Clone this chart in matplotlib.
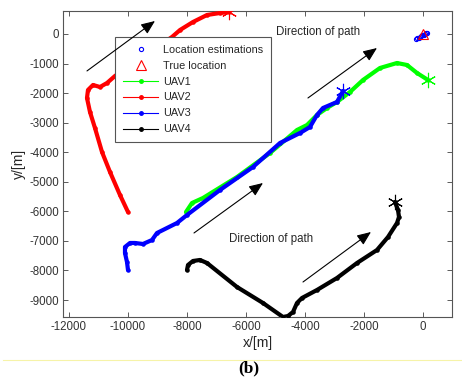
import matplotlib
matplotlib.use("Agg")
import matplotlib.pyplot as plt
from matplotlib.lines import Line2D

plt.rcParams["font.family"] = ["Liberation Sans", "DejaVu Sans"]
plt.rcParams["axes.unicode_minus"] = False

# UAV trajectories (x, y in metres), listed from start to end
uav1_x = [-8034, -7831, -7458, -6305, -5186, -4271, -3932, -3593, -3254, -2915,
          -2475, -2034, -1458, -881, -542, -203, 169]
uav1_y = [-6022, -5717, -5548, -4838, -4026, -3248, -3079, -2740, -2503, -2300,
          -1962, -1556, -1150, -981, -1049, -1319, -1556]

uav2_x = [-10000, -10271, -10610, -10881, -11119, -11288, -11390, -11356, -11186,
          -10949, -10712, -10441, -9424, -8508, -8237, -7797, -7322, -6881, -6576]
uav2_y = [-6022, -5447, -4668, -3992, -3180, -2639, -2165, -1894, -1725,
          -1793, -1658, -1421, -710, -101, 135, 406, 643, 710, 744]

uav3_x = [-10000, -10034, -10102, -10102, -9932, -9763, -9492, -9186, -9017, -8339,
          -8000, -6881, -5763, -4847, -4169, -3831, -3593, -3390, -2915, -2712]
uav3_y = [-7984, -7713, -7409, -7206, -7070, -7070, -7104, -6969, -6732, -6394,
          -6123, -5277, -4499, -3687, -3349, -3146, -2740, -2503, -2300, -1928]

uav4_x = [-8000, -7966, -7797, -7559, -7322, -6305, -5424, -4746, -4576, -4407,
          -4271, -4102, -3593, -2915, -2237, -1559, -1186, -881, -814, -847, -949]
uav4_y = [-7984, -7815, -7679, -7645, -7747, -8559, -9100, -9574, -9540, -9405,
          -9100, -8931, -8660, -8254, -7747, -7307, -6867, -6394, -6191, -5954, -5683]

# Emitter location estimates and the true location
est_x = [-240, -200, -150, -100, -60, -20, 20, 60, 100, 140]
est_y = [-170, -150, -120, -90, -70, -40, -20, 0, 20, 30]
true_x = [0]
true_y = [0]

uav_names = ["UAV1", "UAV2", "UAV3", "UAV4"]
uav_colors = ["#00ff00", "#ff0000", "#0000ff", "#000000"]

# Direction-of-travel arrows: (start, end)
arrows = [((-11390, -1250), (-9085, 440)),
          ((-3900, -2165), (-1560, -474)),
          ((-7763, -6732), (-5424, -5041)),
          ((-4068, -8390), (-1763, -6698))]
arrow_texts = [("Direction of path", (-4983, 68)),
               ("Direction of path", (-6576, -6935))]

fig = plt.figure(figsize=(4.62, 3.79), dpi=100)
ax = fig.add_axes([63 / 462, 1 - 317 / 379, 389 / 462, 306 / 379])

paths = [(uav1_x, uav1_y), (uav2_x, uav2_y), (uav3_x, uav3_y), (uav4_x, uav4_y)]
for (xs, ys), c in zip(paths, uav_colors):
    ax.plot(xs, ys, color=c, lw=3.0, marker=".", ms=4.5, solid_capstyle="round",
            solid_joinstyle="round", zorder=3)
    ax.plot(xs[-1], ys[-1], marker=(6, 2, 0), color=c, ms=11, mew=0.8, zorder=4)

ax.plot(est_x, est_y, "o", mfc="none", mec="#0000ff", ms=3, mew=0.8, zorder=5)
ax.plot(true_x, true_y, "^", mfc="none", mec="#ff0000", ms=7, mew=0.8, zorder=5)

for (x0, y0), (x1, y1) in arrows:
    ax.annotate("", xy=(x1, y1), xytext=(x0, y0),
                arrowprops=dict(arrowstyle="-|>,head_length=0.6,head_width=0.25",
                                color="k", lw=0.8, mutation_scale=14,
                                shrinkA=0, shrinkB=0), zorder=6)
for txt, (tx, ty) in arrow_texts:
    ax.text(tx, ty, txt, fontsize=8.3, color="#262626", ha="left", va="center")

ax.set_xlim(-12203, 983)
ax.set_ylim(-9574, 778)
ax.set_xticks(range(-12000, 1, 2000))
ax.set_yticks(range(-9000, 1, 1000))
ax.tick_params(direction="in", top=True, right=True, length=3.5, width=0.6,
               color="#404040", labelsize=8.3, labelcolor="#333333", pad=3)
for s in ax.spines.values():
    s.set_color("#555555")
    s.set_linewidth(0.8)

ax.set_xlabel("x/[m]", fontsize=10, color="#262626", labelpad=2)
ax.set_ylabel("y/[m]", fontsize=10, color="#262626", labelpad=2)

handles = [Line2D([], [], ls="none", marker="o", mfc="none", mec="#0000ff", ms=3, mew=0.8),
           Line2D([], [], ls="none", marker="^", mfc="none", mec="#ff0000", ms=7, mew=0.8)]
handles += [Line2D([], [], color=c, lw=0.8, marker=".", ms=5) for c in uav_colors]
labels = ["Location estimations", "True location"] + uav_names
leg = ax.legend(handles, labels, loc="upper left", bbox_to_anchor=(0.134, 0.915),
                borderaxespad=0, fontsize=7.8, frameon=True, fancybox=False,
                framealpha=1, edgecolor="#555555", handlelength=3.3,
                handletextpad=0.45, labelspacing=0.55, borderpad=0.7)
leg.get_frame().set_linewidth(0.8)
for t in leg.get_texts():
    t.set_color("#262626")

fig.add_artist(Line2D([3 / 462, 1.0], [1 - 360 / 379] * 2, color="#f6f3a8", lw=0.8))
fig.text(249 / 462, 1 - 368 / 379, "(b)", fontsize=12.5, fontweight="bold",
         family=["Liberation Serif", "DejaVu Serif"], ha="center", va="center")

fig.savefig("out.png", dpi=100)
